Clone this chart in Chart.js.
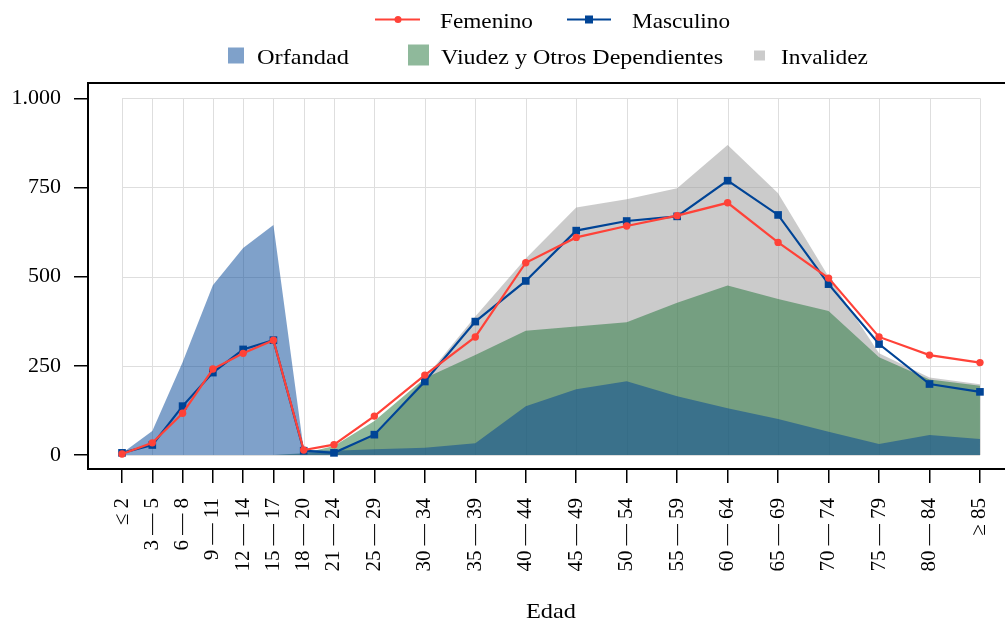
<!DOCTYPE html>
<html>
<head>
<meta charset="utf-8">
<script src="https://cdn.jsdelivr.net/npm/chart.js@4.4.1/dist/chart.umd.min.js"></script>
<style>
  html, body { margin: 0; padding: 0; background: #ffffff; }
  #wrap { width: 1005px; height: 626px; position: relative; }
</style>
</head>
<body>
<div id="wrap"><canvas id="c" width="1005" height="626"></canvas></div>
<script>
// ---- data ----
const ageGroups = ['≤ 2','3 — 5','6 — 8','9 — 11','12 — 14','15 — 17','18 — 20','21 — 24','25 — 29','30 — 34','35 — 39','40 — 44','45 — 49','50 — 54','55 — 59','60 — 64','65 — 69','70 — 74','75 — 79','80 — 84','≥ 85'];
const ageX = [1,4,7,10,13,16,19,22,26,31,36,41,46,51,56,61,66,71,76,81,86];
const femenino  = [3,34,117,241,285,322,14,29,109,224,331,539,610,642,671,707,596,496,331,280,259];
const masculino = [6,28,137,231,296,322,12,6,57,206,374,488,629,656,669,769,673,479,311,199,177];
const orfandad  = [5,67,260,476,580,645,15,12,16,20,33,137,184,207,165,131,101,65,31,56,45];
const viudez    = [0,0,0,0,0,0,5,25,95,215,280,348,360,372,427,475,437,404,274,212,194];
const invalidez = [0,0,0,0,0,0,3,10,55,215,388,551,694,717,748,869,734,500,285,217,198];
const yTicks = [0,250,500,750,1000];
const yTickLabels = ['0','250','500','750','1.000'];

// ---- styles ----
const RED = 'rgb(255,66,56)';
const BLUE = 'rgb(0,68,150)';
const BLUE_A = 'rgba(0,68,150,0.5)';
const GREEN_A = 'rgba(31,115,55,0.5)';
const GRAY_A = 'rgba(152,152,152,0.5)';
const FONT = 'Liberation Serif';

const pts = arr => arr.map((v, i) => ({x: ageX[i], y: v}));

const areaDs = (label, arr, color, order) => ({
  label, data: pts(arr), backgroundColor: color, borderColor: 'rgba(0,0,0,0)',
  borderWidth: 0, pointRadius: 0, fill: 'origin', tension: 0, order
});

const customPlugin = {
  id: 'custom',
  beforeDatasetsDraw(chart) {
    const {ctx, scales: {x, y}} = chart;
    ctx.save();
    ctx.strokeStyle = 'rgb(222,222,222)';
    ctx.lineWidth = 1;
    const x0 = x.getPixelForValue(ageX[0]), x1 = x.getPixelForValue(ageX[ageX.length-1]);
    const y0 = y.getPixelForValue(0), y1 = y.getPixelForValue(1000);
    ageX.forEach(v => {
      const px = Math.round(x.getPixelForValue(v)) + 0.5;
      ctx.beginPath(); ctx.moveTo(px, y1); ctx.lineTo(px, y0); ctx.stroke();
    });
    yTicks.forEach(v => {
      const py = Math.round(y.getPixelForValue(v)) + 0.5;
      ctx.beginPath(); ctx.moveTo(x0, py); ctx.lineTo(x1, py); ctx.stroke();
    });
    ctx.restore();
  },
  afterDraw(chart) {
    const {ctx, chartArea} = chart;
    ctx.save();
    // top spine
    ctx.strokeStyle = '#000'; ctx.lineWidth = 2;
    ctx.beginPath(); ctx.moveTo(chartArea.left - 1, chartArea.top); ctx.lineTo(1005, chartArea.top); ctx.stroke();

    const fitText = (txt, x, yb, w, size) => {
      ctx.font = size + 'px "' + FONT + '"';
      const m = ctx.measureText(txt).width;
      ctx.save();
      ctx.translate(x, yb);
      ctx.scale(w / m, 1);
      ctx.fillStyle = '#000';
      ctx.textAlign = 'left'; ctx.textBaseline = 'alphabetic';
      ctx.fillText(txt, 0, 0);
      ctx.restore();
    };
    // legend row 1
    ctx.lineWidth = 2.2;
    ctx.strokeStyle = RED; ctx.fillStyle = RED;
    ctx.beginPath(); ctx.moveTo(375, 19.5); ctx.lineTo(420, 19.5); ctx.stroke();
    ctx.beginPath(); ctx.arc(398, 19.5, 3.5, 0, Math.PI*2); ctx.fill();
    fitText(chart.data.datasets[0].label, 440, 27.5, 93, 22);
    ctx.strokeStyle = BLUE; ctx.fillStyle = BLUE; ctx.lineWidth = 2.2;
    ctx.beginPath(); ctx.moveTo(567, 19.5); ctx.lineTo(611, 19.5); ctx.stroke();
    ctx.fillRect(585, 15.5, 8, 8);
    fitText(chart.data.datasets[1].label, 632, 27.5, 98, 22);
    // legend row 2
    ctx.fillStyle = BLUE_A; ctx.fillRect(228, 47.5, 16, 16);
    fitText(chart.data.datasets[2].label, 257, 63.5, 92, 22);
    ctx.fillStyle = GREEN_A; ctx.fillRect(408, 44.5, 21, 21);
    fitText(chart.data.datasets[3].label, 441, 63.5, 282, 22);
    ctx.fillStyle = GRAY_A; ctx.fillRect(754, 50.5, 11, 10);
    fitText(chart.data.datasets[4].label, 781, 63.5, 87, 22);
    // x axis title
    fitText('Edad', 526, 618, 50, 22);
    ctx.restore();
  }
};

new Chart(document.getElementById('c'), {
  type: 'line',
  data: {
    datasets: [
      { label: 'Femenino', data: pts(femenino), borderColor: RED, backgroundColor: RED,
        borderWidth: 2.2, pointStyle: 'circle', pointRadius: 3.7, pointBorderWidth: 0,
        pointBackgroundColor: RED, fill: false, tension: 0, order: 0 },
      { label: 'Masculino', data: pts(masculino), borderColor: BLUE, backgroundColor: BLUE,
        borderWidth: 2.2, pointStyle: 'rect', pointRadius: 5.4, pointBorderWidth: 0,
        pointBackgroundColor: BLUE, fill: false, tension: 0, order: 1 },
      areaDs('Orfandad', orfandad, BLUE_A, 2),
      areaDs('Viudez y Otros Dependientes', viudez, GREEN_A, 3),
      areaDs('Invalidez', invalidez, GRAY_A, 4)
    ]
  },
  options: {
    responsive: false,
    animation: false,
    devicePixelRatio: 1,
    layout: { autoPadding: false, padding: { top: 83, right: 0, bottom: 0, left: 0 } },
    plugins: { legend: { display: false }, tooltip: { enabled: false }, title: { display: false } },
    scales: {
      x: {
        type: 'linear', min: -2.37, max: 88.48,
        afterBuildTicks: s => { s.ticks = ageX.map(v => ({value: v})); },
        afterFit: s => { s.height = 157; s.paddingLeft = 0; s.paddingRight = 0; },
        ticks: {
          autoSkip: false, maxRotation: 90, minRotation: 90, padding: 15,
          color: '#000', font: { family: FONT, size: 21 },
          callback: (v, i) => ageGroups[i]
        },
        grid: { drawOnChartArea: false, drawTicks: true, tickLength: 14, color: '#000', lineWidth: 1.5 },
        border: { display: true, color: '#000', width: 2 }
      },
      y: {
        type: 'linear', min: -39.25, max: 1042.9,
        afterBuildTicks: s => { s.ticks = yTicks.map(v => ({value: v})); },
        afterFit: s => { s.width = 88; s.paddingTop = 0; s.paddingBottom = 0; },
        ticks: {
          padding: 13, color: '#000', font: { family: FONT, size: 22 },
          callback: (v, i) => yTickLabels[i]
        },
        grid: { drawOnChartArea: false, drawTicks: true, tickLength: 14, color: '#000', lineWidth: 1.5 },
        border: { display: true, color: '#000', width: 2 }
      }
    }
  },
  plugins: [customPlugin]
});
</script>
</body>
</html>
